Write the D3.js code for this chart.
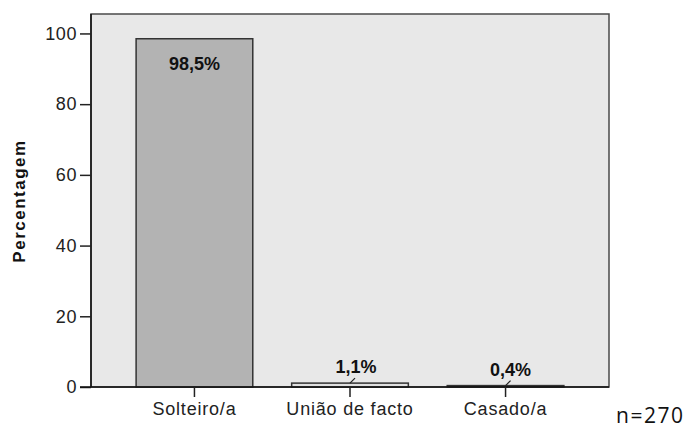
<!DOCTYPE html>
<html>
<head>
<meta charset="utf-8">
<script src="https://d3js.org/d3.v7.min.js"></script>
<style>
  body { margin: 0; background: #fff; }
  text { font-family: "Liberation Sans", Arial, sans-serif; }
</style>
</head>
<body>
<div id="chart"></div>
<script>
  // estado civil
  const categories = ["Solteiro/a", "União de facto", "Casado/a"];
  const percentages = [98.5, 1.1, 0.4];
  const valueLabels = ["98,5%", "1,1%", "0,4%"];
  const yTicks = [0, 20, 40, 60, 80, 100];

  const w = 690, h = 428;
  const plot = {left: 91, right: 609, top: 14, bottom: 387};

  const svg = d3.select("#chart")
    .append("svg")
      .attr("width", w)
      .attr("height", h);

  const x = d3.scaleBand()
    .domain(categories)
    .range([plot.left, plot.right])
    .paddingInner(0.25)
    .paddingOuter(0.29);

  const y = d3.scaleLinear()
    .domain([0, 105.5])
    .range([plot.bottom, plot.top]);

  // plot background
  svg.append("rect")
    .attr("x", plot.left)
    .attr("y", plot.top)
    .attr("width", plot.right - plot.left)
    .attr("height", plot.bottom - plot.top)
    .attr("fill", "#e8e8e8")
    .attr("stroke", "#4a4a4a")
    .attr("stroke-width", 1.5);

  const fills = ["#b3b3b3", "#e0e0e0", "#b3b3b3"];

  svg.selectAll(".bar")
    .data(categories)
    .join("rect")
      .attr("class", "bar")
      .attr("x", d => x(d))
      .attr("width", x.bandwidth())
      .attr("y", (d, i) => y(percentages[i]))
      .attr("height", (d, i) => y(0) - y(percentages[i]))
      .attr("fill", (d, i) => fills[i])
      .attr("stroke", "#333")
      .attr("stroke-width", 1.5);

  // y axis
  const yAxis = svg.append("g")
    .attr("transform", `translate(${plot.left},0)`)
    .call(d3.axisLeft(y).tickValues(yTicks).tickSize(11).tickPadding(3));
  yAxis.select(".domain").attr("stroke", "#111").attr("stroke-width", 1.5)
    .attr("d", `M0,${plot.bottom}V${plot.top}`);
  yAxis.selectAll(".tick line").attr("stroke", "#222").attr("stroke-width", 1.5);
  yAxis.selectAll(".tick text")
    .attr("font-size", "18px")
    .attr("letter-spacing", "0.6px")
    .attr("fill", "#222")
    .style("font-family", "'Liberation Sans', Arial, sans-serif");

  // x axis
  const xAxis = svg.append("g")
    .attr("transform", `translate(0,${plot.bottom})`)
    .call(d3.axisBottom(x).tickSize(10).tickPadding(5).tickSizeOuter(0));
  xAxis.select(".domain").attr("stroke", "#111").attr("stroke-width", 1.5)
    .attr("d", `M${plot.left - 11},0H${plot.right}`);
  xAxis.selectAll(".tick line").attr("stroke", "#222").attr("stroke-width", 1.5);
  xAxis.selectAll(".tick text")
    .attr("font-size", "18px")
    .attr("letter-spacing", "0.8px")
    .attr("fill", "#222")
    .style("font-family", "'Liberation Sans', Arial, sans-serif");

  // value labels
  const labelOffset = [[0, 31], [6, -10], [5, -9.5]];
  svg.selectAll(".vlabel")
    .data(categories)
    .join("text")
      .attr("class", "vlabel")
      .attr("x", (d, i) => x(d) + x.bandwidth() / 2 + labelOffset[i][0])
      .attr("y", (d, i) => y(percentages[i]) + labelOffset[i][1])
      .attr("text-anchor", "middle")
      .attr("font-size", "18px")
      .attr("font-weight", "bold")
      .attr("fill", "#111")
      .text((d, i) => valueLabels[i]);

  // small leader lines for the tiny bars
  svg.selectAll(".leader")
    .data(categories.slice(1))
    .join("line")
      .attr("class", "leader")
      .attr("x1", d => x(d) + x.bandwidth() / 2)
      .attr("y1", d => y(percentages[categories.indexOf(d)]))
      .attr("x2", d => x(d) + x.bandwidth() / 2 + 5)
      .attr("y2", d => y(percentages[categories.indexOf(d)]) - 5)
      .attr("stroke", "#222")
      .attr("stroke-width", 1.2);

  // axis title
  svg.append("text")
    .attr("transform", "translate(25,201) rotate(-90)")
    .attr("text-anchor", "middle")
    .attr("font-size", "17px")
    .attr("font-weight", "bold")
    .attr("letter-spacing", "1.5px")
    .attr("fill", "#111")
    .text("Percentagem");

  svg.append("text")
    .attr("x", 616)
    .attr("y", 423)
    .attr("font-size", "21px")
    .attr("letter-spacing", "1.5px")
    .style("font-family", "'Open Sans', 'Noto Sans', sans-serif")
    .attr("fill", "#111")
    .text("n=270");
</script>
</body>
</html>
